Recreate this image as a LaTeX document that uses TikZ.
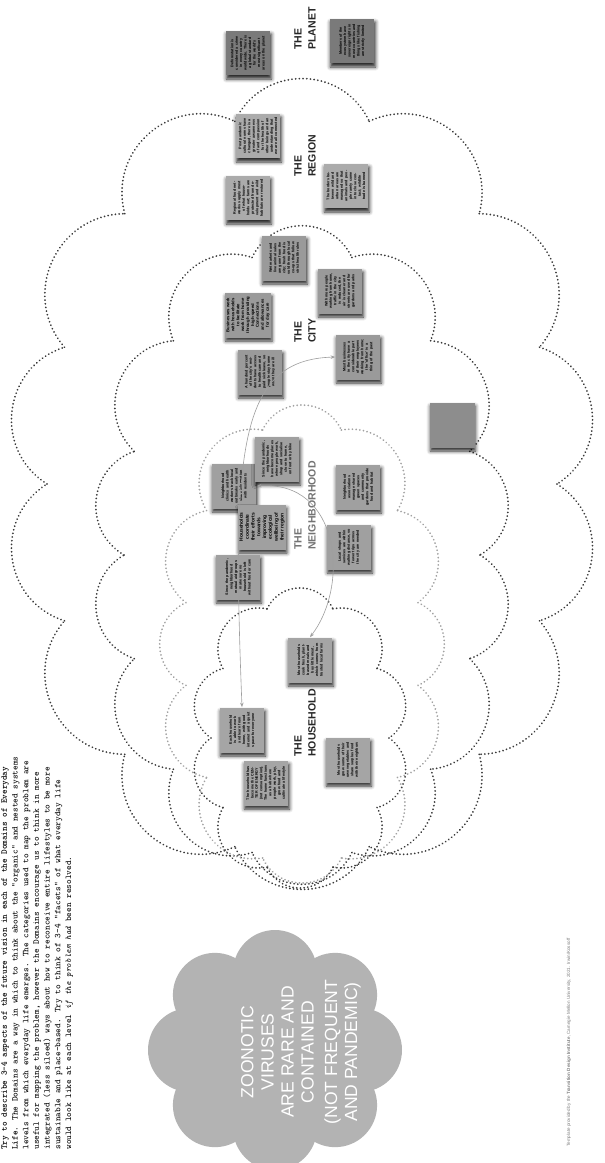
\documentclass[tikz,border=0pt]{standalone}
\usepackage{fontspec}
\setmainfont{Liberation Sans}
\setsansfont{Liberation Sans}
\usetikzlibrary{arrows.meta,shadows.blur}

\definecolor{dotdark}{HTML}{3A3A3A}
\definecolor{dotlight}{HTML}{A2A2A2}
\definecolor{cloudgray}{HTML}{B3B3B3}
\definecolor{planetnote}{HTML}{7A7A7A}
\definecolor{regionnote}{HTML}{ABABAB}
\definecolor{citynote}{HTML}{9A9A9A}
\definecolor{hoodnote}{HTML}{A0A0A0}
\definecolor{housenote}{HTML}{A5A5A5}
\definecolor{sparenote}{HTML}{8D8D8D}

\newcommand\notefont{\fontsize{2.1}{2.55}\selectfont\bfseries}

\tikzset{
  note/.style={rotate=90, fill=#1, minimum width=0.9cm, minimum height=0.9cm,
    text width=0.74cm, align=center, inner sep=0.3mm, font=\notefont,
    blur shadow={shadow xshift=0.5pt, shadow yshift=-2pt, shadow blur steps=4, shadow opacity=85}},
  domainname/.style={rotate=90, anchor=north west, align=left, inner sep=0pt,
    font=\bfseries\fontsize{6}{8}\selectfont, text=black!85},
  dotline/.style={draw=#1, line width=1.1pt, dash pattern=on 0.01pt off 2.1pt, line cap=round},
  link/.style={draw=gray!75, line width=0.35pt,
    {Stealth[length=2.6pt,width=2pt]}-{Stealth[length=2.6pt,width=2pt]}}
}

\begin{document}
\begin{tikzpicture}[x=0.02cm, y=-0.02cm]
        \useasboundingbox (0,0) rectangle (605,1163);

        % the brief, top left
        \node[rotate=90, anchor=north west, inner sep=0pt, align=left,
              font=\ttfamily\fontsize{5}{6.1}\selectfont] (brief) at (1,1150)
              {\textbf{Try to describe 3-4 aspects of the future vision in each of the Domains of Everyday}\\
               \textbf{Life}. The Domains are a way in which to think about the "organic" and nested systems\\
               levels from which everyday life emerges. The categories used to map the problem are\\
               useful for mapping the problem, however the Domains encourage us to think in more\\
               integrated (less siloed) ways about how to reconceive entire lifestyles to be more\\
               sustainable and place-based. Try to think of 3-4 "facets" of what everyday life\\
               would look like at each level \textit{if the problem had} been resolved.};

        % the future vision cloud
        \fill[cloudgray] (275,1050) ellipse [x radius=85, y radius=78];
        \foreach \a in {0,45,...,315}
            \fill[cloudgray] ({275+85*cos(\a)},{1050+78*sin(\a)}) circle [radius=42];
        \node[rotate=90, align=center, text=white, inner sep=0pt,
              font=\fontsize{10}{11.4}\selectfont] (vision) at (301,1052)
              {ZOONOTIC\\VIRUSES\\ARE RARE AND\\CONTAINED\\[2pt](NOT FREQUENT\\AND PANDEMIC)};

        % nested domains: region, city, neighborhood, household
        \foreach \cx/\cy/\rx/\ry/\n/\sk/\col in {302/484/255/376/14/5.6/dotdark,
                 302/555/178/310/14/7.9/dotdark, 302/644/118/227/12/9/dotlight,
                 300/738/89/139/10/6.3/dotdark}{
            \foreach \k in {1,...,\n}{
                \pgfmathsetmacro\pa{90+360*(\k-0.5)/\n}
                \pgfmathsetmacro\pb{90+360*(\k+0.5)/\n}
                \pgfmathsetmacro\ta{\pa-\sk*sin(2*\pa)}
                \pgfmathsetmacro\tb{\pb-\sk*sin(2*\pb)}
                \draw[dotline=\col] ({\cx+\rx*cos(\ta)},{\cy+\ry*sin(\ta)})
                    to[bend left=65, looseness=1.2] ({\cx+\rx*cos(\tb)},{\cy+\ry*sin(\tb)});
            }
        }

        % domain names
        \node[domainname] (planet) at (294,50) {THE\\PLANET};
        \node[domainname] (region) at (294,177) {THE\\REGION};
        \node[domainname] (city) at (294,343) {THE\\CITY};
        \node[domainname, text=black!55] (hood) at (294,550) {THE\\NEIGHBORHOOD};
        \node[domainname] (house) at (294,757) {THE\\HOUSEHOLD};

        % planet
        \node[note=planetnote] (pl1) at (248,53) {Deforestation is considered a crime in every country worldwide. There is a global standard for the world's most significant areas on the planet};
        \node[note=planetnote] (pl2) at (352,41) {Members of the ecosystem have sovereign rights in most countries and things like fishing are strictly limited};

        % region
        \node[note=regionnote] (rg1) at (258,136) {Post pandemic cultural norms have changed, there is a greater awareness of and compassion for the health of other beings and an understanding that we are all connected};
        \node[note=regionnote] (rg2) at (248,198) {Regional food networks supply most of what households eat; farms are protected from development and wild habitats are restored};
        \node[note=regionnote] (rg3) at (346,186) {The borders between wild and urban areas are managed so that animals and people rarely come into close contact; wildlife trade is banned};

        % city
        \node[note=citynote] (ct1) at (284,258) {Wet markets and live animal sales are gone from the city; fresh food is sold through local co-ops that follow strict health rules};
        \node[note=citynote, font=\fontsize{2.4}{2.8}\selectfont\bfseries] (ct2) at (248,315) {Businesses work with households to facilitate work from home through providing high-speed Connections and allowances for day care};
        \node[note=citynote] (ct3) at (340,291) {With more people working from home, traffic in the city is reduced, the air is cleaner and streets are used for gardens and parks};
        \node[note=citynote] (ct4) at (260,372) {A hundred percent of the city's residents have access to healthcare and paid sick leave, so people stay home when they are ill};
        \node[note=citynote] (ct5) at (358,357) {Most businesses in the city have a considerable part of their employees working from home; the 'office' is a thing of the past};

        % neighborhood
        \node[note=hoodnote] (nb1) at (234,486) {Neighborhood clinics and health workers track local outbreaks early and share information with residents};
        \node[note=hoodnote] (nb2) at (277,459) {Since the pandemic, neighborhoods have become places where people work, shop and socialise close to home, on foot or by bike};
        \node[note=hoodnote, font=\fontsize{2.8}{3.3}\selectfont\bfseries] (nb3) at (262,527) {Households coordinate their efforts towards improving ecological wellbeing of their region};
        \node[note=hoodnote] (nb4) at (358,487) {Neighborhood associations manage shared green spaces and community gardens that provide food and habitat};
        \node[note=hoodnote] (nb5) at (238,577) {Since the pandemic, neighborhood mutual aid groups make sure no household is left without food or care};
        \node[note=hoodnote] (nb6) at (349,547) {Local shops and services are within walking distance, so fewer trips across the city are needed};

        % household
        \node[note=housenote] (hh1) at (310,660) {Most households cook fresh, plant-based meals and buy little meat, which comes from trusted local farms};
        \node[note=housenote] (hh2) at (242,730) {Each household is able to work and learn from home, with good internet and a quiet space for everyone};
        \node[note=housenote] (hh3) at (266,783) {The household has become the CENTER OF ENERGY (not consumption). The home functions as a hub where people work, play, grow food and cultivate a lifestyle};
        \node[note=housenote] (hh4) at (348,760) {Most households grow some of their own vegetables and share surplus food with their neighbors};

        \node[note=sparenote] (spare) at (452,425) {};

        % links
        \draw[link] (hh2.east) .. controls (232,450) and (238,360) .. (ct5.north);
        \draw[link] (nb1.south) .. controls (340,480) and (350,585) .. (hh1.east);

        % credit
        \node[rotate=90, anchor=west, inner sep=0pt, text=gray,
              font=\fontsize{2.6}{3}\selectfont] (credit) at (569,1147)
              {Template provided by the \textbf{Transition Design Institute}, Carnegie Mellon University, 2021. Irwin/Kossoff};

    \end{tikzpicture}
\end{document}
